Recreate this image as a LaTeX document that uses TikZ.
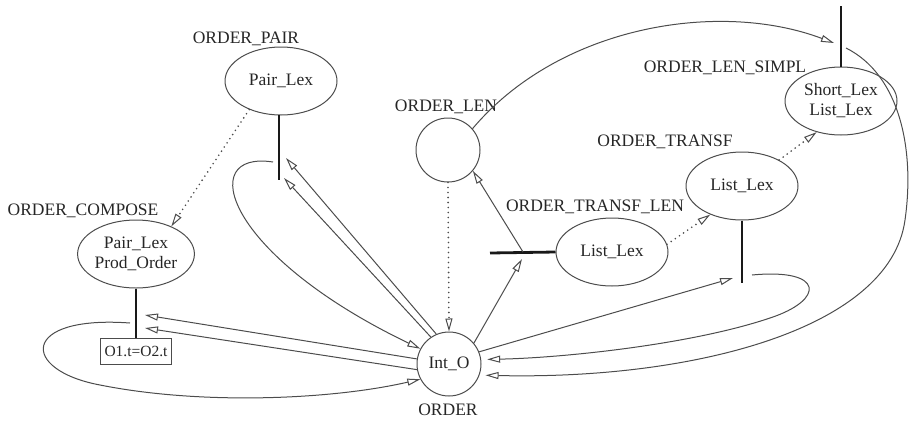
\documentclass[tikz,border=0pt]{standalone}
\usepackage{fontspec}
\setmainfont{Liberation Serif}
\usetikzlibrary{arrows.meta,shapes.geometric}
\begin{document}
\begin{tikzpicture}[x=1pt,y=-1pt,
  every node/.style={font=\fontsize{17.5}{20}\selectfont, text=black!85},
  ell/.style={ellipse, draw=black!70, line width=1pt, minimum width=112pt, minimum height=68pt, inner sep=0pt, align=center},
  circ/.style={circle, draw=black!70, line width=1pt, minimum size=64pt, inner sep=0pt},
  lab/.style={inner sep=0pt},
  bar/.style={line width=2.8pt, black!90},
  edge/.style={draw=black!70, line width=1pt, -{Triangle[open,length=13pt,width=7pt]}},
  dot/.style={draw=black!70, line width=1.8pt, line cap=round, dash pattern=on 0pt off 5pt, -{Triangle[open,length=13pt,width=7pt,line width=1pt]}}]
\useasboundingbox (0,0) rectangle (911,421);

% nodes
\node[ell] (pair) at (281,81) {Pair\_Lex};
\node[ell] (compose) at (136,254) {Pair\_Lex\\Prod\_Order};
\node[draw=black!70, line width=0.9pt, minimum width=71pt, minimum height=26pt, inner sep=0pt, font=\fontsize{15.5}{18}\selectfont] (box) at (136,351) {O1.t=O2.t};
\node[circ] (len) at (448,150) {};
\node[circ] (intO) at (449,364) {Int\_O};
\node[ell] (tlen) at (612,252) {List\_Lex};
\node[ell] (transf) at (742,186) {List\_Lex};
\node[ell] (simpl) at (841,101) {Short\_Lex\\List\_Lex};

% labels
\node[lab] (lpair) at (246,39) {ORDER\_PAIR};
\node[lab] (lcompose) at (83,211) {ORDER\_COMPOSE};
\node[lab] (llen) at (446,107) {ORDER\_LEN};
\node[lab] (ltlen) at (595,207) {ORDER\_TRANSF\_LEN};
\node[lab] (ltransf) at (665,142) {ORDER\_TRANSF};
\node[lab] (lsimpl) at (725,68) {ORDER\_LEN\_SIMPL};
\node[lab] (lorder) at (448,410) {ORDER};

% coordinates
\coordinate (pbA) at (279,115);
\coordinate (pbB) at (279,180);
\coordinate (pbL) at (273,162);
\coordinate (pbT1) at (286,158);
\coordinate (pbT2) at (284,178);
\coordinate (cbL) at (130,323);
\coordinate (cbT1) at (145,315);
\coordinate (cbT2) at (145,328);
\coordinate (tlbL) at (490,253);
\coordinate (tbU) at (523,252);
\coordinate (tbD) at (522,259);
\coordinate (trB) at (742,283);
\coordinate (trT) at (733,278);
\coordinate (trR) at (752,275);
\coordinate (sbT) at (841,6);
\coordinate (sbL) at (834,43);
\coordinate (sbR) at (846,48);

% bars
\draw[bar] (pbA) -- (pbB);
\draw[bar] (compose.south) -- (box.north);
\draw[bar] (tlen.west) -- (tlbL);
\draw[bar] (transf.south) -- (trB);
\draw[bar] (simpl.north) -- (sbT);

% dotted
\draw[dot] (pair.222) -- (compose.38);
\draw[dot] (len.south) -- (intO.north);
\draw[dot] (tlen.8) -- (transf.222);
\draw[dot] (transf.35) -- (simpl.232);

% pair
\draw[edge] (pbL) .. controls (195,150) and (225,255) .. (intO.152);
\draw[edge] (intO.113) -- (pbT1);
\draw[edge] (intO.124) -- (pbT2);

% compose
\draw[edge] (intO.171) -- (cbT1);
\draw[edge] (intO.190) -- (cbT2);
\draw[edge] (cbL) .. controls (20,315) and (20,370) .. (100,385) .. controls (200,405) and (330,400) .. (intO.208);

% len / tlen
\draw[edge] (tbU) -- (len.320);
\draw[edge] (intO.40) -- (tbD);

% transf
\draw[edge] (intO.22) -- (trT);
\draw[edge, shorten >=6pt] (trR) .. controls (825,268) and (825,300) .. (770,318) .. controls (690,345) and (560,358) .. (intO.8);

% simpl
\draw[edge] (len.41) .. controls (560,25) and (720,0) .. (sbL);
\draw[edge, shorten >=6pt] (sbR) .. controls (900,75) and (915,150) .. (905,220) .. controls (890,330) and (690,380) .. (intO.340);
\end{tikzpicture}
\end{document}
